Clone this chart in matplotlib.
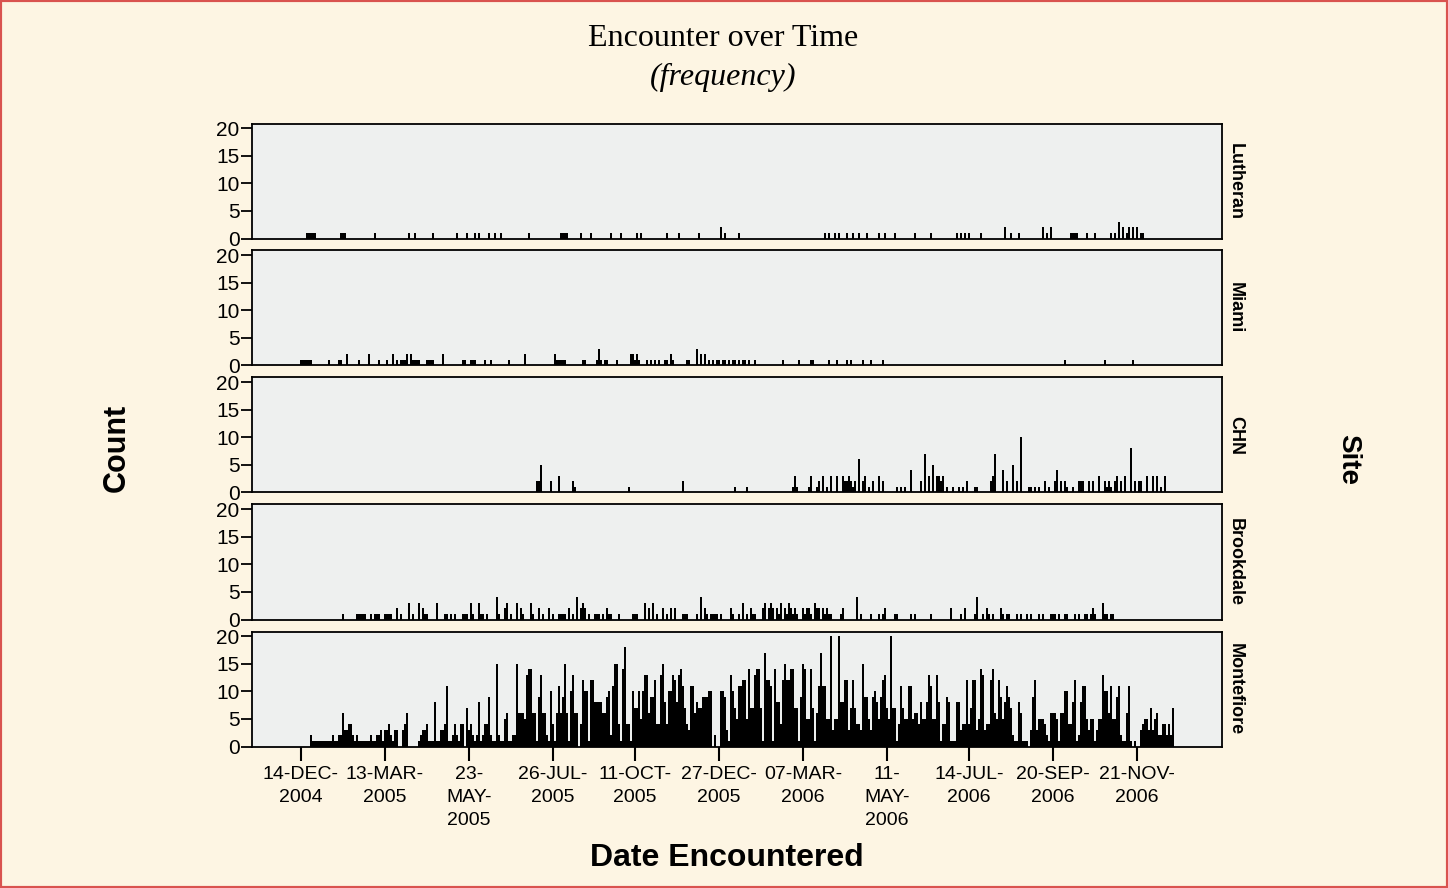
import numpy as np
import matplotlib.pyplot as plt
from matplotlib.patches import Rectangle

plt.rcParams['font.family'] = ['Liberation Sans', 'DejaVu Sans']

# encounter dates are a categorical axis: one slot per date that has data
sites = ["Lutheran", "Miami", "CHN", "Brookdale", "Montefiore"]
n_dates = 485
tick_pos = [24, 66, 108, 150, 191, 233, 275, 317, 358, 400, 442]
tick_labels = ["14-DEC-\n2004", "13-MAR-\n2005", "23-\nMAY-\n2005", "26-JUL-\n2005",
               "11-OCT-\n2005", "27-DEC-\n2005", "07-MAR-\n2006", "11-\nMAY-\n2006",
               "14-JUL-\n2006", "20-SEP-\n2006", "21-NOV-\n2006"]

# (date slot, count) pairs for the sparse sites
lutheran = [(27, 1), (28, 1), (29, 1), (30, 1), (31, 1), (44, 1), (45, 1), (46, 1), (61, 1),
            (78, 1), (81, 1), (90, 1), (102, 1), (107, 1), (111, 1), (113, 1), (118, 1),
            (121, 1), (124, 1), (138, 1), (154, 1), (155, 1), (156, 1), (157, 1), (164, 1),
            (169, 1), (179, 1), (184, 1), (192, 1), (194, 1), (207, 1), (213, 1), (223, 1),
            (234, 2), (236, 1), (243, 1), (286, 1), (288, 1), (291, 1), (293, 1), (297, 1),
            (300, 1), (303, 1), (307, 1), (313, 1), (316, 1), (321, 1), (331, 1), (339, 1),
            (352, 1), (354, 1), (356, 1), (358, 1), (364, 1), (376, 2), (379, 1), (383, 1),
            (395, 2), (397, 1), (399, 2), (409, 1), (410, 1), (411, 1), (412, 1), (417, 1),
            (421, 1), (429, 1), (431, 1), (433, 3), (435, 2), (437, 1), (438, 2), (440, 2),
            (442, 2), (444, 1), (445, 1)]

miami = [(24, 1), (25, 1), (26, 1), (27, 1), (28, 1), (29, 1), (38, 1), (43, 1), (44, 1),
         (47, 2), (53, 1), (58, 2), (63, 1), (67, 1), (70, 2), (72, 1), (74, 1), (75, 1),
         (76, 1), (77, 2), (79, 2), (80, 1), (81, 1), (82, 1), (83, 1), (87, 1), (88, 1),
         (89, 1), (90, 1), (95, 2), (105, 1), (106, 1), (109, 1), (110, 1), (111, 1),
         (116, 1), (119, 1), (128, 1), (136, 2), (151, 2), (152, 1), (153, 1), (154, 1),
         (155, 1), (156, 1), (165, 1), (166, 1), (172, 1), (173, 3), (174, 1), (176, 1),
         (177, 1), (182, 1), (189, 2), (190, 2), (191, 1), (192, 2), (193, 1), (197, 1),
         (199, 1), (201, 1), (203, 1), (206, 1), (207, 1), (209, 2), (210, 1), (217, 1),
         (218, 1), (222, 3), (224, 2), (226, 2), (228, 1), (230, 1), (232, 1), (233, 1),
         (235, 1), (236, 1), (238, 1), (240, 1), (241, 1), (243, 1), (245, 1), (246, 1),
         (248, 1), (251, 1), (265, 1), (273, 1), (279, 1), (280, 1), (288, 1), (292, 1),
         (297, 1), (299, 1), (305, 1), (309, 1), (315, 1), (406, 1), (426, 1), (440, 1)]

chn = [(142, 2), (143, 2), (144, 5), (149, 2), (153, 3), (160, 2), (161, 1), (188, 1),
       (215, 2), (241, 1), (247, 1), (270, 1), (271, 3), (272, 1), (278, 1), (279, 3),
       (282, 1), (283, 2), (285, 3), (287, 1), (289, 3), (292, 3), (295, 3), (296, 2),
       (297, 2), (298, 3), (299, 2), (300, 1), (301, 2), (303, 6), (305, 2), (306, 3),
       (308, 1), (310, 2), (313, 3), (315, 2), (322, 1), (324, 1), (326, 1), (329, 4),
       (334, 2), (336, 7), (338, 3), (340, 5), (342, 3), (343, 3), (344, 2), (345, 3),
       (347, 1), (350, 1), (353, 1), (355, 1), (357, 2), (361, 1), (362, 1), (369, 2),
       (370, 3), (371, 7), (375, 4), (377, 2), (380, 5), (382, 2), (384, 10), (388, 1),
       (389, 1), (391, 1), (393, 1), (396, 2), (398, 1), (401, 2), (402, 4), (404, 2),
       (406, 2), (407, 1), (410, 1), (413, 2), (414, 2), (415, 2), (418, 2), (420, 2),
       (423, 3), (426, 2), (427, 1), (428, 2), (429, 1), (431, 2), (432, 3), (434, 2),
       (436, 3), (439, 8), (441, 2), (443, 2), (444, 2), (447, 3), (450, 3), (452, 3),
       (454, 1), (456, 3)]

brookdale = [(45, 1), (52, 1), (53, 1), (54, 1), (55, 1), (56, 1), (59, 1), (61, 1), (62, 1),
             (63, 1), (66, 1), (67, 1), (68, 1), (69, 1), (72, 2), (74, 1), (78, 3), (80, 1),
             (83, 3), (85, 2), (86, 1), (87, 1), (92, 3), (96, 1), (97, 1), (99, 1), (101, 1),
             (105, 1), (106, 1), (107, 1), (109, 3), (110, 1), (113, 3), (114, 1), (115, 1),
             (117, 1), (122, 4), (123, 1), (126, 2), (127, 3), (129, 1), (132, 3), (134, 2),
             (135, 1), (139, 3), (140, 1), (143, 2), (145, 1), (148, 2), (150, 1), (153, 1),
             (154, 1), (155, 1), (156, 1), (158, 2), (160, 1), (162, 4), (164, 2), (165, 3),
             (166, 2), (168, 1), (171, 1), (172, 1), (173, 1), (175, 1), (177, 2), (178, 1),
             (179, 1), (183, 1), (190, 1), (191, 1), (192, 1), (196, 3), (198, 2), (200, 3),
             (202, 1), (205, 2), (207, 1), (209, 2), (211, 2), (215, 1), (216, 1), (217, 1),
             (222, 1), (224, 4), (226, 2), (227, 1), (229, 1), (230, 1), (231, 1), (232, 1),
             (234, 1), (239, 2), (240, 1), (243, 1), (245, 3), (247, 1), (249, 2), (250, 1),
             (251, 1), (255, 2), (256, 3), (258, 2), (259, 3), (260, 2), (262, 2), (263, 1),
             (264, 3), (266, 2), (267, 1), (268, 3), (269, 2), (270, 1), (271, 2), (272, 1),
             (275, 2), (276, 1), (277, 2), (278, 2), (279, 1), (281, 3), (282, 2), (283, 2),
             (285, 2), (286, 1), (287, 2), (288, 1), (289, 1), (294, 1), (295, 2), (302, 4),
             (304, 1), (309, 1), (313, 1), (315, 1), (316, 2), (321, 1), (322, 1), (329, 1),
             (331, 1), (339, 1), (349, 2), (354, 1), (356, 2), (361, 1), (362, 4), (365, 1),
             (367, 2), (368, 1), (370, 1), (374, 2), (375, 1), (377, 1), (378, 1), (382, 1),
             (384, 1), (387, 1), (389, 1), (393, 1), (395, 1), (399, 1), (400, 1), (401, 1),
             (403, 1), (406, 1), (407, 1), (411, 1), (413, 1), (416, 1), (417, 1), (419, 1),
             (420, 2), (421, 1), (425, 3), (426, 1), (427, 1), (429, 1), (430, 1)]

# Montefiore has a count on almost every date: dense list from slot 29 on
montefiore_first = 29
montefiore = [2, 1, 1, 1, 1, 1, 1, 1, 1, 1,
              1, 2, 1, 1, 2, 2, 6, 3, 3, 4,
              4, 2, 1, 2, 1, 1, 1, 1, 1, 1,
              2, 1, 1, 2, 2, 3, 1, 3, 3, 4,
              2, 1, 3, 3, 0, 0, 3, 4, 6, 0,
              0, 0, 0, 0, 1, 2, 3, 3, 4, 1,
              1, 1, 8, 1, 1, 3, 3, 4, 11, 1,
              1, 2, 4, 2, 1, 4, 4, 0, 7, 3,
              4, 2, 1, 2, 8, 1, 2, 4, 4, 9,
              2, 1, 1, 15, 2, 1, 1, 5, 6, 1,
              1, 2, 2, 15, 6, 6, 6, 5, 13, 14,
              14, 6, 6, 1, 9, 13, 6, 6, 2, 1,
              10, 4, 1, 6, 11, 6, 9, 15, 6, 1,
              10, 13, 6, 6, 0, 4, 12, 10, 10, 1,
              12, 12, 8, 8, 8, 8, 6, 6, 9, 10,
              2, 11, 15, 15, 4, 1, 14, 18, 4, 4,
              1, 10, 7, 7, 10, 5, 10, 13, 13, 6,
              9, 9, 12, 4, 4, 13, 15, 8, 4, 10,
              10, 13, 12, 8, 13, 14, 11, 7, 4, 3,
              11, 11, 6, 8, 7, 7, 9, 9, 9, 10,
              10, 0, 2, 0, 0, 10, 10, 9, 3, 1,
              13, 10, 7, 5, 11, 11, 12, 12, 5, 14,
              7, 7, 13, 14, 14, 7, 1, 17, 12, 12,
              11, 1, 14, 8, 8, 4, 12, 15, 12, 12,
              14, 14, 7, 7, 1, 9, 15, 14, 5, 5,
              14, 7, 1, 6, 11, 17, 11, 11, 5, 5,
              20, 3, 5, 5, 20, 8, 8, 12, 12, 3,
              7, 12, 7, 4, 4, 3, 15, 9, 9, 5,
              3, 9, 10, 8, 5, 9, 12, 13, 7, 5,
              20, 7, 7, 1, 4, 11, 7, 5, 5, 11,
              11, 5, 6, 6, 4, 8, 5, 5, 8, 13,
              11, 5, 5, 13, 8, 1, 4, 4, 9, 8,
              1, 1, 1, 8, 8, 3, 4, 4, 12, 4,
              7, 12, 12, 3, 5, 14, 13, 3, 4, 4,
              12, 14, 6, 5, 12, 9, 5, 8, 11, 9,
              7, 2, 1, 1, 8, 6, 1, 1, 1, 0,
              3, 9, 12, 3, 5, 5, 5, 4, 2, 1,
              6, 6, 6, 5, 1, 6, 6, 10, 10, 4,
              4, 8, 12, 1, 2, 8, 11, 11, 5, 3,
              5, 5, 1, 3, 5, 5, 13, 10, 10, 6,
              11, 5, 5, 9, 11, 2, 1, 1, 6, 11,
              1, 0, 1, 0, 0, 3, 4, 5, 5, 3,
              7, 3, 5, 6, 2, 2, 4, 4, 2, 4,
              2, 7]


def site_series(name):
    if name == "Montefiore":
        x = np.arange(len(montefiore)) + montefiore_first
        return x, np.array(montefiore)
    pairs = {"Lutheran": lutheran, "Miami": miami, "CHN": chn, "Brookdale": brookdale}[name]
    x, y = zip(*pairs)
    return np.array(x), np.array(y)


W, H = 1448, 888
fig = plt.figure(figsize=(W / 100, H / 100), dpi=100, facecolor="#FDF5E3")
fig.patches.append(Rectangle((0, 0), 1, 1, transform=fig.transFigure, fill=False,
                             edgecolor="#D9534F", linewidth=3))

left, width = 252 / W, 970 / W
panel_h = 115
for i, site in enumerate(sites):
    top = 123.5 + 127 * i
    ax = fig.add_axes([left, 1 - (top + panel_h) / H, width, panel_h / H])
    ax.set_facecolor("#EEF0EF")
    x, y = site_series(site)
    ax.bar(x, y, width=0.95, color="black", linewidth=0)
    ax.set_xlim(-0.5, n_dates - 0.5)
    ax.set_ylim(0, 20.9)
    ax.set_yticks([0, 5, 10, 15, 20])
    ax.tick_params(axis="y", direction="out", length=8, width=1.3, labelsize=15, pad=1)
    for sp in ax.spines.values():
        sp.set_linewidth(1.3)
    if site == "Montefiore":
        ax.set_xticks(tick_pos)
        ax.set_xticklabels(tick_labels, fontsize=14)
        for t in ax.get_xticklabels():
            t.set_linespacing(1.45)
        ax.tick_params(axis="x", direction="out", length=10, width=1.5, pad=4)
    else:
        ax.set_xticks([])
    ax.text(1.005, 0.5, site, transform=ax.transAxes, rotation=-90, ha="left",
            va="center", fontsize=13, fontweight="bold")

fig.text(723 / W, 1 - 39 / H, "Encounter over Time", ha="center", va="center",
         fontsize=23, family="Liberation Serif")
fig.text(723 / W, 1 - 77 / H, "(frequency)", ha="center", va="center",
         fontsize=23, family="Liberation Serif", style="italic")
fig.text(117 / W, 1 - 448 / H, "Count", rotation=90, ha="center", va="center",
         fontsize=22, fontweight="bold")
fig.text(1348 / W, 1 - 459 / H, "Site", rotation=-90, ha="center", va="center",
         fontsize=20, fontweight="bold")
fig.text(727 / W, 1 - 858 / H, "Date Encountered", ha="center", va="center",
         fontsize=23, fontweight="bold")

fig.savefig("out.png", dpi=100, facecolor=fig.get_facecolor())
